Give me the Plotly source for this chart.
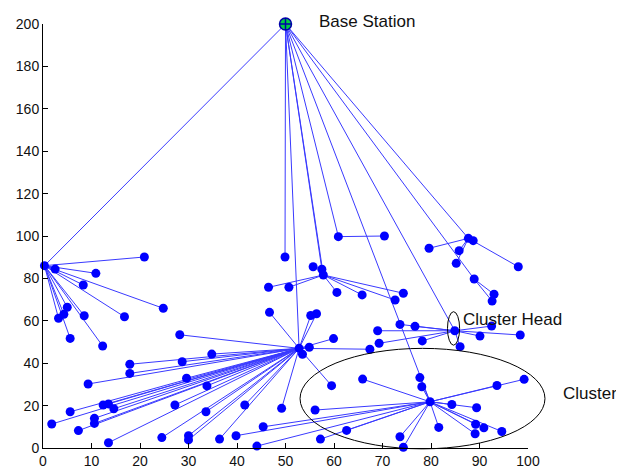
import plotly.graph_objects as go

# Base station
bs_x, bs_y = 50, 200

# Cluster heads
ch_x = [0.3, 52.8, 57.8, 57.5, 79.8, 84.9, 49.9, 60.9, 87.7, 88.9]
ch_y = [86.0, 47.0, 81.6, 84.3, 21.8, 55.3, 90.1, 99.7, 98.9, 79.7]

# Member nodes and the index of the cluster head they report to
node_x = [
    20.9, 2.5, 10.9, 8.3, 24.8, 16.8, 8.5, 5.0, 4.3, 3.2, 5.6, 12.3,
    28.2, 34.8, 28.7, 17.9, 17.9, 9.3, 29.6, 33.8, 12.4, 13.5, 14.6, 5.6,
    1.8, 10.6, 10.6, 7.3, 13.5, 24.5, 27.2, 33.6, 41.6, 49.2, 30.0, 30.0,
    36.4, 46.7, 55.2, 56.4, 54.9, 53.5, 59.9, 59.5, 67.4,
    46.5, 50.7, 60.6, 65.8, 72.6, 74.3,
    55.7,
    77.7, 78.1, 65.9, 56.1, 62.6, 57.2, 73.6, 74.3, 81.6, 84.3, 89.4, 89.2,
    90.9, 94.6, 89.1, 93.6, 99.2, 39.8, 45.4, 44.1,
    73.6, 76.7, 69.0, 69.3, 78.2, 86.0, 90.1, 98.4, 92.5,
    70.4,
    79.6, 88.7, 98.0, 85.8, 85.2,
    93.0, 92.6,
]
node_y = [
    90.1, 84.4, 82.4, 76.9, 65.9, 61.9, 62.4, 66.4, 63.1, 61.2, 51.7, 48.1,
    53.4, 44.3, 40.7, 39.5, 35.2, 30.2, 32.9, 29.3, 20.3, 20.8, 18.5, 17.1,
    11.3, 14.0, 11.6, 8.2, 2.5, 4.9, 20.3, 17.1, 20.3, 18.7, 5.8, 3.8,
    4.2, 64.0, 62.5, 63.3, 47.5, 44.2, 51.6, 29.4, 46.6,
    75.8, 75.8, 73.4, 72.2, 69.8, 73.0,
    85.5,
    33.2, 28.9, 32.5, 17.9, 8.3, 4.2, 5.3, 0.3, 9.7, 20.5, 19.0, 11.2,
    9.5, 7.8, 6.7, 29.5, 32.4, 5.8, 10.0, 0.9,
    58.3, 57.4, 55.3, 49.4, 50.5, 47.8, 52.8, 53.3, 57.5,
    100.0,
    94.2, 97.8, 85.5, 93.1, 87.1,
    72.5, 69.3,
]
node_ch = (
    [0] * 12 + [1] * 33 + [2] * 6 + [3] * 1 + [4] * 20 + [5] * 9 + [7] * 1 + [8] * 5 + [9] * 2
)

# Annotation labels and their data positions
label_text = ["Base Station", "Cluster Head", "Cluster"]
label_x = [56.4, 86.2, 106.8]
label_y = [201.0, 60.4, 25.8]

X_MAX, Y_MAX = 100, 200

# Build link segments
lx, ly = [], []
for cx, cy in zip(ch_x, ch_y):
    lx += [bs_x, cx, None]
    ly += [bs_y, cy, None]
for nx, ny, c in zip(node_x, node_y, node_ch):
    lx += [ch_x[c], nx, None]
    ly += [ch_y[c], ny, None]

fig = go.Figure()
fig.add_trace(go.Scatter(x=lx, y=ly, mode="lines",
                         line=dict(color="#3a3aff", width=1), hoverinfo="skip"))
fig.add_trace(go.Scatter(x=node_x + ch_x, y=node_y + ch_y, mode="markers",
                         marker=dict(color="#0000ff", size=9, line=dict(width=0)),
                         cliponaxis=False))
fig.add_trace(go.Scatter(x=[bs_x], y=[bs_y], mode="markers",
                         marker=dict(symbol="circle-cross", color="#00cc44", size=12,
                                     line=dict(color="#0000aa", width=1.5)),
                         cliponaxis=False))

# Ellipses (paper coords: x/100, y/200)
fig.add_shape(type="circle", xref="paper", yref="paper",
              x0=0.530, x1=1.035, y0=-0.002, y1=0.235,
              line=dict(color="black", width=1))
fig.add_shape(type="circle", xref="paper", yref="paper",
              x0=0.834, x1=0.859, y0=0.2425, y1=0.3215,
              line=dict(color="black", width=1))

font_ann = dict(family="Liberation Sans, Arial", size=17, color="#111111")
for t, ax_, ay_ in zip(label_text, label_x, label_y):
    fig.add_annotation(x=ax_ / X_MAX, y=ay_ / Y_MAX, xref="paper", yref="paper",
                       text=t, showarrow=False,
                       xanchor="left", yanchor="middle", font=font_ann)

axis_common = dict(showgrid=False, zeroline=False, showline=True, linecolor="black",
                   linewidth=1, ticks="inside", ticklen=5, tickcolor="black",
                   tickfont=dict(family="Liberation Sans, Arial", size=14, color="#111111"),
                   mirror=False, automargin=False)
fig.update_xaxes(range=[0, X_MAX], dtick=10, tick0=0, **axis_common)
fig.update_yaxes(range=[0, Y_MAX], dtick=20, tick0=0, **axis_common)

# The page body adds an 8px offset, so the figure is 8px smaller on each axis
fig.update_layout(width=616, height=462, showlegend=False,
                  margin=dict(l=35, r=96, t=16, b=22),
                  plot_bgcolor="white", paper_bgcolor="white")

fig.write_html("out.html")
